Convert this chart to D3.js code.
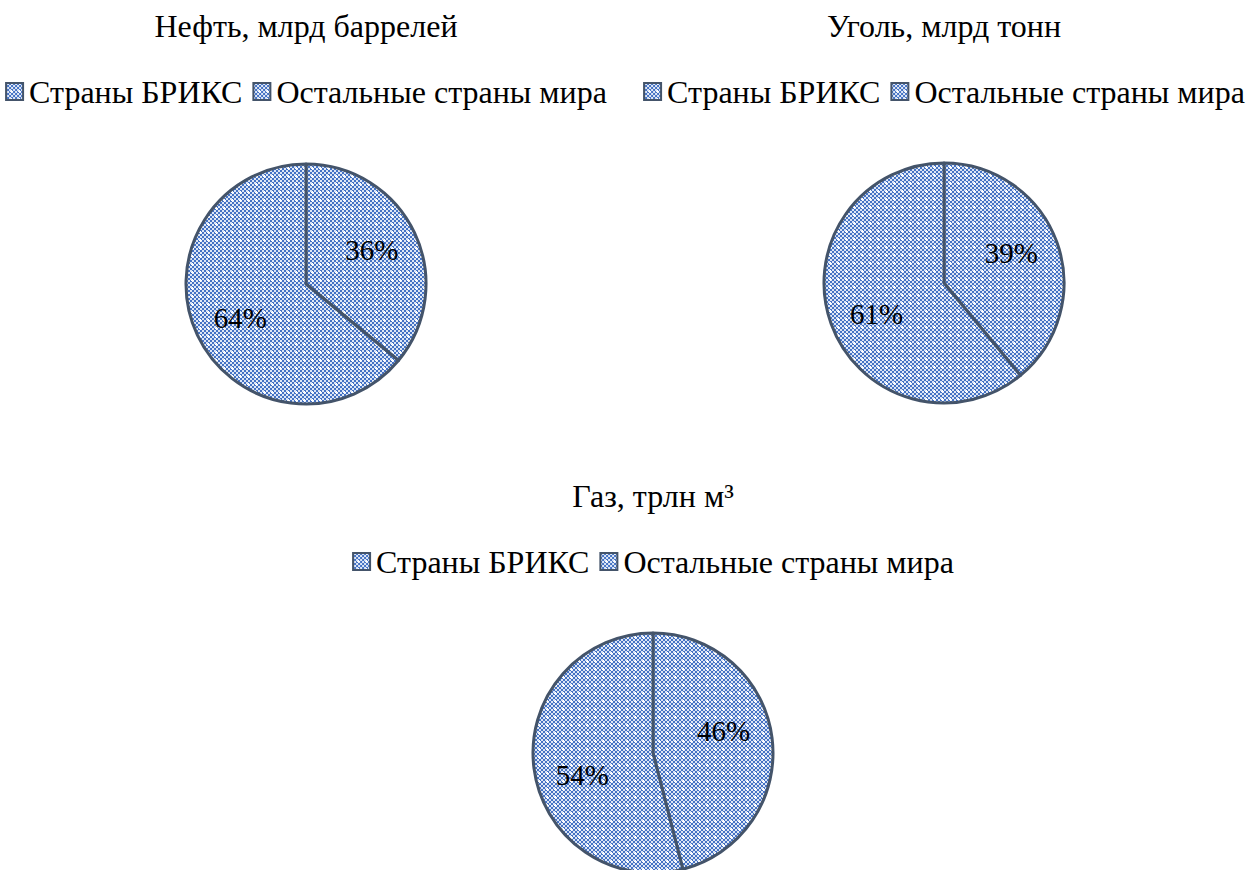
<!DOCTYPE html>
<html>
<head>
<meta charset="utf-8">
<script src="https://cdn.jsdelivr.net/npm/d3@7"></script>
<style>
    body { margin: 0; background: #fff; }
    text { font-family: "Liberation Serif", "Times New Roman", serif; fill: #000; }
</style>
</head>
<body>
<div id="chart"></div>
<script>
// data
var titles = ['Нефть, млрд баррелей', 'Уголь, млрд тонн', 'Газ, трлн м³'];
var categories = ['Страны БРИКС', 'Остальные страны мира'];
var brics = [36, 39, 46];
var rest = [64, 61, 54];

var width = 1252, height = 870;
var radius = 120;

// layout of the three panels
var panels = [
    { cx: 306, top: 0, cy: 284 },
    { cx: 944, top: 0, cy: 283 },
    { cx: 653, top: 470, cy: 753 }
];

var svg = d3.select('#chart')
    .append('svg')
        .attr('width', width)
        .attr('height', height)
;

// dotted pattern fill like the office chart
var defs = svg.append('defs');
var pat = defs.append('pattern')
    .attr('id', 'dots')
    .attr('patternUnits', 'userSpaceOnUse')
    .attr('width', 8)
    .attr('height', 8);
pat.append('rect').attr('width', 8).attr('height', 8).attr('fill', '#dde6f5');
[[0,0],[4,0],[2,2],[6,2],[0,4],[4,4],[2,6],[6,6]].forEach(function(p){
    pat.append('rect').attr('x', p[0]).attr('y', p[1]).attr('width', 2).attr('height', 2).attr('fill', '#4472c4');
});
pat.append('rect').attr('x', 5).attr('y', 4).attr('width', 3).attr('height', 1).attr('fill', '#ffffff');
pat.append('rect').attr('x', 6).attr('y', 3).attr('width', 1).attr('height', 3).attr('fill', '#ffffff');

var pie = d3.pie().sort(null).value(function(d){ return d.value; });
var arc = d3.arc().innerRadius(0).outerRadius(radius);

// best-fit style label spot: pull the angle a bit toward the diagonal
function labelPos(d) {
    var mid = (d.startAngle + d.endAngle) / 2;
    var diag = mid < Math.PI ? Math.PI / 3 : Math.PI * 4 / 3;
    var a = mid - 0.45 * (mid - diag);
    var r = 74;
    return [Math.sin(a) * r, -Math.cos(a) * r];
}

panels.forEach(function(p, i) {
    var data = [
        { name: categories[0], value: brics[i] },
        { name: categories[1], value: rest[i] }
    ];

    var g = svg.append('g').attr('transform', 'translate(0,' + p.top + ')');

    g.append('text')
        .attr('x', p.cx)
        .attr('y', 37)
        .attr('text-anchor', 'middle')
        .style('font-size', '32px')
        .text(titles[i]);

    // legend, centered
    var legend = g.append('g');
    var x = 0;
    categories.forEach(function(c, j) {
        legend.append('rect')
            .attr('x', x + 1)
            .attr('y', -20)
            .attr('width', 17)
            .attr('height', 17)
            .attr('fill', 'url(#dots)')
            .attr('stroke', '#44546a')
            .attr('stroke-width', 2);
        var t = legend.append('text')
            .attr('x', x + 24)
            .attr('y', 0)
            .style('font-size', '32px')
            .text(c);
        x += 24 + t.node().getComputedTextLength() + 10;
    });
    legend.attr('transform', 'translate(' + (p.cx - (x - 10) / 2) + ',103)');

    var pg = g.append('g').attr('transform', 'translate(' + p.cx + ',' + (p.cy - p.top) + ')');

    pg.selectAll('path')
        .data(pie(data))
        .enter().append('path')
            .attr('d', arc)
            .attr('fill', 'url(#dots)')
            .attr('stroke', '#44546a')
            .attr('stroke-width', 3)
            .attr('stroke-linejoin', 'round')
    ;

    pg.selectAll('text')
        .data(pie(data))
        .enter().append('text')
            .attr('transform', function(d){ return 'translate(' + labelPos(d) + ')'; })
            .attr('text-anchor', 'middle')
            .attr('dy', '0.35em')
            .style('font-size', '29px')
            .text(function(d){ return d.value + '%'; })
    ;
});
</script>
</body>
</html>
